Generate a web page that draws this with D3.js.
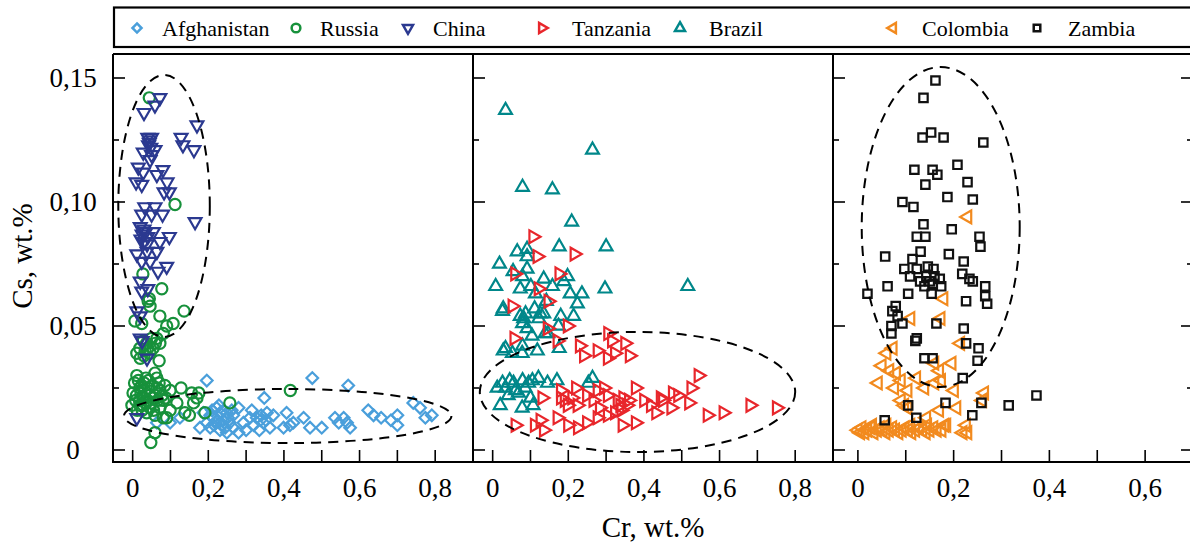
<!DOCTYPE html>
<html><head><meta charset="utf-8">
<script src="https://cdn.jsdelivr.net/npm/d3@7"></script>
<style>body{margin:0;background:#fff}svg{display:block}</style>
</head><body>
<script>
// ---------- DATA (Cr wt.%, Cs wt.%) ----------
const afghanistan = [[0.196,0.028],[0.475,0.029],[0.570,0.026],[0.348,0.021],[0.742,0.019],[0.760,0.017],[0.791,0.014],[0.774,0.013],[0.700,0.014],[0.683,0.012],[0.700,0.010],[0.623,0.016],[0.657,0.013],[0.637,0.014],[0.535,0.013],[0.558,0.013],[0.545,0.011],[0.575,0.009],[0.567,0.011],[0.500,0.009],[0.469,0.009],[0.452,0.013],[0.407,0.015],[0.416,0.010],[0.425,0.011],[0.399,0.009],[0.372,0.014],[0.355,0.015],[0.310,0.013],[0.320,0.010],[0.346,0.011],[0.363,0.009],[0.328,0.013],[0.293,0.011],[0.280,0.017],[0.266,0.014],[0.280,0.007],[0.249,0.007],[0.178,0.009],[0.196,0.011],[0.213,0.013],[0.231,0.015],[0.222,0.017],[0.240,0.012],[0.257,0.011],[0.249,0.015],[0.205,0.009],[0.231,0.008],[0.266,0.009],[0.187,0.015],[0.125,0.013],[0.099,0.011],[0.064,0.011],[0.215,0.010],[0.235,0.010],[0.225,0.012],[0.338,0.012],[0.335,0.008],[0.300,0.008],[0.205,0.014],[0.218,0.011],[0.245,0.009],[0.228,0.018],[0.252,0.013],[0.262,0.016],[0.210,0.016],[0.240,0.016],[0.340,0.014],[0.315,0.016],[0.352,0.012]];
const russia = [[0.044,0.142],[0.112,0.099],[0.027,0.071],[0.077,0.065],[0.044,0.061],[0.041,0.060],[0.046,0.058],[0.072,0.054],[0.136,0.056],[0.006,0.052],[0.024,0.051],[0.107,0.051],[0.090,0.050],[0.081,0.047],[0.064,0.045],[0.037,0.043],[0.019,0.041],[0.054,0.041],[0.072,0.043],[0.011,0.039],[0.046,0.039],[0.070,0.036],[0.033,0.040],[0.028,0.044],[0.050,0.045],[0.011,0.030],[0.059,0.031],[0.064,0.029],[0.019,0.025],[0.041,0.025],[0.072,0.024],[0.099,0.024],[0.001,0.023],[0.027,0.021],[0.054,0.021],[0.081,0.020],[-0.002,0.018],[0.019,0.018],[0.046,0.017],[0.072,0.017],[0.099,0.016],[0.037,0.015],[0.059,0.014],[0.081,0.013],[0.128,0.025],[0.156,0.023],[0.175,0.023],[0.161,0.019],[0.138,0.015],[0.191,0.015],[0.257,0.019],[0.417,0.024],[0.059,0.007],[0.048,0.003],[0.117,0.019],[0.030,0.027],[0.010,0.022],[0.035,0.019],[0.060,0.022],[0.085,0.026],[0.025,0.016],[0.005,0.027],[0.090,0.013],[0.150,0.014],[0.170,0.021],[0.015,0.028],[0.022,0.023],[0.032,0.024],[0.045,0.022],[0.052,0.026],[0.066,0.020],[0.078,0.022],[0.008,0.020],[0.018,0.020],[0.028,0.018],[0.040,0.020],[0.050,0.019],[0.065,0.025],[0.088,0.021],[0.012,0.016],[0.035,0.029],[0.055,0.016],[0.070,0.027],[0.024,0.026],[0.042,0.028],[0.030,0.038],[0.040,0.041],[0.060,0.043],[0.020,0.037]];
const china = [[0.072,0.142],[0.059,0.139],[0.030,0.136],[0.170,0.131],[0.128,0.126],[0.133,0.123],[0.162,0.121],[0.040,0.126],[0.045,0.125],[0.050,0.126],[0.042,0.123],[0.048,0.122],[0.044,0.124],[0.028,0.120],[0.059,0.121],[0.046,0.117],[0.050,0.119],[0.015,0.114],[0.028,0.112],[0.080,0.113],[0.064,0.111],[0.009,0.108],[0.024,0.107],[0.091,0.108],[0.083,0.104],[0.097,0.104],[0.032,0.098],[0.059,0.098],[0.024,0.095],[0.050,0.095],[0.079,0.095],[0.165,0.092],[0.020,0.090],[0.030,0.089],[0.025,0.087],[0.035,0.088],[0.040,0.086],[0.022,0.085],[0.030,0.084],[0.038,0.083],[0.028,0.088],[0.097,0.086],[0.072,0.084],[0.055,0.088],[0.011,0.079],[0.038,0.080],[0.064,0.080],[0.024,0.076],[0.046,0.076],[0.090,0.074],[0.067,0.072],[0.020,0.068],[0.024,0.064],[0.040,0.065],[0.011,0.056],[0.020,0.054],[0.020,0.045],[0.025,0.044],[0.038,0.037],[0.011,0.013]];
const tanzania = [[0.107,0.086],[0.118,0.078],[0.216,0.079],[0.176,0.071],[0.121,0.065],[0.052,0.058],[0.059,0.071],[0.147,0.060],[0.198,0.050],[0.057,0.045],[0.305,0.047],[0.315,0.044],[0.350,0.043],[0.171,0.044],[0.241,0.038],[0.277,0.040],[0.304,0.037],[0.323,0.039],[0.362,0.038],[0.544,0.030],[0.180,0.024],[0.220,0.025],[0.249,0.022],[0.277,0.024],[0.294,0.025],[0.304,0.022],[0.378,0.025],[0.476,0.023],[0.525,0.025],[0.490,0.022],[0.444,0.021],[0.418,0.018],[0.450,0.020],[0.472,0.017],[0.519,0.019],[0.345,0.021],[0.337,0.018],[0.355,0.018],[0.323,0.015],[0.180,0.021],[0.198,0.018],[0.224,0.018],[0.131,0.021],[0.266,0.020],[0.283,0.017],[0.304,0.014],[0.277,0.013],[0.249,0.011],[0.225,0.009],[0.199,0.010],[0.171,0.013],[0.111,0.010],[0.126,0.012],[0.135,0.008],[0.060,0.010],[0.343,0.010],[0.378,0.011],[0.568,0.014],[0.610,0.015],[0.681,0.018],[0.751,0.017],[0.432,0.015],[0.400,0.020],[0.360,0.020],[0.330,0.020],[0.340,0.016],[0.210,0.021],[0.190,0.020],[0.145,0.049],[0.230,0.042]];
const brazil = [[0.034,0.137],[0.264,0.121],[0.079,0.106],[0.158,0.105],[0.209,0.092],[0.065,0.080],[0.091,0.081],[0.176,0.082],[0.300,0.082],[0.018,0.075],[0.091,0.078],[0.054,0.072],[0.091,0.073],[0.079,0.070],[0.198,0.070],[0.188,0.068],[0.135,0.069],[0.008,0.066],[0.101,0.066],[0.158,0.066],[0.297,0.065],[0.516,0.066],[0.073,0.065],[0.113,0.063],[0.205,0.063],[0.236,0.063],[0.142,0.060],[0.224,0.059],[0.028,0.057],[0.111,0.057],[0.087,0.055],[0.135,0.055],[0.180,0.054],[0.214,0.054],[0.082,0.053],[0.122,0.053],[0.174,0.050],[0.091,0.049],[0.139,0.047],[0.104,0.046],[0.079,0.042],[0.034,0.041],[0.026,0.056],[0.073,0.054],[0.126,0.055],[0.079,0.051],[0.146,0.047],[0.176,0.041],[0.028,0.040],[0.052,0.039],[0.078,0.039],[0.118,0.040],[0.026,0.027],[0.055,0.027],[0.079,0.028],[0.105,0.028],[0.121,0.029],[0.145,0.027],[0.170,0.028],[0.264,0.029],[0.253,0.027],[0.034,0.025],[0.060,0.024],[0.086,0.025],[0.041,0.022],[0.068,0.023],[0.100,0.021],[0.020,0.018],[0.078,0.017],[0.107,0.018],[0.012,0.025],[0.045,0.028],[0.095,0.027]];
const colombia = [[0.229,0.094],[0.179,0.061],[0.110,0.053],[0.173,0.053],[0.214,0.043],[0.073,0.041],[0.060,0.039],[0.050,0.034],[0.066,0.032],[0.080,0.031],[0.160,0.035],[0.196,0.035],[0.170,0.032],[0.042,0.027],[0.090,0.028],[0.122,0.029],[0.076,0.025],[0.104,0.024],[0.139,0.025],[0.160,0.027],[0.174,0.028],[0.201,0.024],[0.264,0.023],[0.260,0.020],[0.090,0.020],[0.097,0.018],[0.104,0.017],[0.170,0.016],[0.206,0.017],[0.143,0.013],[0.181,0.010],[0.226,0.010],[0.229,0.007],[0.219,0.007],[0.000,0.008],[0.008,0.009],[0.014,0.007],[0.020,0.008],[0.027,0.009],[0.033,0.007],[0.040,0.008],[0.046,0.009],[0.052,0.008],[0.058,0.007],[0.065,0.008],[0.072,0.009],[0.078,0.008],[0.085,0.007],[0.092,0.008],[0.098,0.009],[0.105,0.008],[0.112,0.007],[0.120,0.008],[0.128,0.009],[0.135,0.008],[0.142,0.007],[0.150,0.008],[0.158,0.009],[0.165,0.008],[0.175,0.008],[0.185,0.010],[0.005,0.007],[0.030,0.010],[0.060,0.010],[0.110,0.010],[0.145,0.010]];
const zambia = [[0.162,0.149],[0.137,0.142],[0.135,0.126],[0.153,0.128],[0.179,0.126],[0.262,0.124],[0.118,0.113],[0.156,0.113],[0.166,0.111],[0.208,0.115],[0.141,0.107],[0.229,0.108],[0.093,0.100],[0.116,0.098],[0.187,0.102],[0.240,0.101],[0.137,0.091],[0.196,0.089],[0.123,0.086],[0.141,0.086],[0.254,0.086],[0.256,0.082],[0.057,0.078],[0.131,0.080],[0.114,0.077],[0.190,0.079],[0.221,0.076],[0.097,0.073],[0.123,0.073],[0.146,0.074],[0.158,0.073],[0.109,0.070],[0.143,0.070],[0.171,0.069],[0.218,0.071],[0.233,0.069],[0.240,0.068],[0.139,0.066],[0.156,0.067],[0.174,0.066],[0.154,0.063],[0.062,0.066],[0.266,0.066],[0.266,0.062],[0.270,0.059],[0.105,0.063],[0.020,0.063],[0.079,0.058],[0.072,0.056],[0.083,0.054],[0.093,0.051],[0.070,0.050],[0.070,0.047],[0.164,0.051],[0.221,0.049],[0.226,0.060],[0.123,0.045],[0.120,0.044],[0.226,0.043],[0.252,0.041],[0.250,0.036],[0.139,0.037],[0.156,0.037],[0.219,0.029],[0.105,0.018],[0.183,0.019],[0.258,0.019],[0.315,0.018],[0.373,0.022],[0.056,0.012],[0.122,0.013],[0.239,0.014],[0.150,0.068],[0.160,0.070],[0.130,0.068]];

const legendNames = ["Afghanistan","Russia","China","Tanzania","Brazil","Colombia","Zambia"];
const yTickVals = [0, 0.05, 0.10, 0.15];
const yTickLabels = ["0","0,05","0,10","0,15"];
const xTickLabelsWide = ["0","0,2","0,4","0,6","0,8"];
const xTickLabelsNarrow = ["0","0,2","0,4","0,6"];
// ellipses: [cx, cy, rx, ry] in data units
const ellipseLeft = [[0.083,0.0984,0.121,0.0528],[0.41,0.0137,0.433,0.0109]];
const ellipseMid = [[0.383,0.0234,0.417,0.0242]];
const ellipseRight = [[0.173,0.0899,0.165,0.0645]];

// ---------- STYLE ----------
const W=1190,H=544;
const FONT="'Liberation Serif','Times New Roman',serif";
const col = {Afghanistan:"#4a9fdb",Russia:"#17913b",China:"#2b3990",Tanzania:"#e8262b",Brazil:"#00878a",Colombia:"#f28a1e",Zambia:"#111"};

const svg=d3.select("body").append("svg").attr("width",W).attr("height",H);
const y=d3.scaleLinear().domain([0,0.15]).range([450,78]);
const yTop=54,yBottom=462;

const panels=[
 {x:d3.scaleLinear().domain([-0.052,0.9]).range([113,473]), series:[["Afghanistan",afghanistan],["Russia",russia],["China",china]], ell:ellipseLeft, ticks:d3.range(0,9).map(d=>d/10), labels:xTickLabelsWide, right:false},
 {x:d3.scaleLinear().domain([-0.052,0.9]).range([473,833]), series:[["Brazil",brazil],["Tanzania",tanzania]], ell:ellipseMid, ticks:d3.range(0,9).map(d=>d/10), labels:xTickLabelsWide, right:false},
 {x:d3.scaleLinear().domain([-0.052,0.7]).range([833,1193]), series:[["Colombia",colombia],["Zambia",zambia]], ell:ellipseRight, ticks:d3.range(0,7).map(d=>d/10), labels:xTickLabelsNarrow, right:true}
];

function tri(s,rot){const h=s*Math.sqrt(3)/2;const p=[[0,-2*h/3],[s/2,h/3],[-s/2,h/3]];const a=rot*Math.PI/180;
 return "M"+p.map(([px,py])=>[px*Math.cos(a)-py*Math.sin(a),px*Math.sin(a)+py*Math.cos(a)].map(v=>v.toFixed(2)).join(",")).join("L")+"Z";}
function shape(name,k){
 switch(name){
  case "Afghanistan":{const r=5.8*k;return `M0,${-r}L${r},0L0,${r}L${-r},0Z`;}
  case "Russia":{const r=5.6*k;return `M${r},0A${r},${r} 0 1 1 ${-r},0A${r},${r} 0 1 1 ${r},0Z`;}
  case "China":return tri(12.8*k,180);
  case "Tanzania":return tri(12.8*k,90);
  case "Brazil":return tri(12.8*k,0);
  case "Colombia":return tri(12.8*k,-90);
  case "Zambia":{const r=4.2*k;return `M${-r},${-r}H${r}V${r}H${-r}Z`;}
 }
}

const defs=svg.append("defs");
panels.forEach((p,i)=>{
 const [x0,x1]=p.x.range();
 defs.append("clipPath").attr("id","clip"+i).append("rect").attr("x",x0).attr("y",yTop).attr("width",x1-x0).attr("height",yBottom-yTop);
 const g=svg.append("g").attr("clip-path",`url(#clip${i})`);
 p.series.forEach(([name,data])=>{
  g.selectAll(null).data(data).enter().append("path")
   .attr("d",shape(name,1)).attr("transform",d=>`translate(${p.x(d[0])},${y(d[1])})`)
   .attr("fill","none").attr("stroke",col[name]).attr("stroke-width",2.2);
 });
 p.ell.forEach(e=>{
  g.append("ellipse").attr("cx",p.x(e[0])).attr("cy",y(e[1]))
   .attr("rx",p.x(e[0]+e[2])-p.x(e[0])).attr("ry",y(e[1])-y(e[1]+e[3]))
   .attr("fill","none").attr("stroke","#000").attr("stroke-width",2).attr("stroke-dasharray","10,7");
 });
 const ax=svg.append("g");
 p.ticks.forEach(t=>{ax.append("line").attr("x1",p.x(t)).attr("x2",p.x(t)).attr("y1",yBottom).attr("y2",yBottom-12).attr("stroke","#000").attr("stroke-width",1.6);});
 p.labels.forEach((l,j)=>{ax.append("text").attr("x",p.x(j*0.2)).attr("y",497).attr("text-anchor","middle").attr("font-family",FONT).attr("font-size",27).text(l);});
 const yt=[0,0.025,0.05,0.075,0.10,0.125,0.15];
 yt.forEach((t,j)=>{const len=j%2?6:12;ax.append("line").attr("x1",x0).attr("x2",x0+len).attr("y1",y(t)).attr("y2",y(t)).attr("stroke","#000").attr("stroke-width",1.6);
   if(p.right) ax.append("line").attr("x1",x1).attr("x2",x1-len).attr("y1",y(t)).attr("y2",y(t)).attr("stroke","#000").attr("stroke-width",1.6);});
 ax.append("line").attr("x1",x0).attr("x2",x0).attr("y1",yTop).attr("y2",yBottom).attr("stroke","#000").attr("stroke-width",2);
 if(p.right) ax.append("line").attr("x1",x1).attr("x2",x1).attr("y1",yTop).attr("y2",yBottom).attr("stroke","#000").attr("stroke-width",2);
});
svg.append("line").attr("x1",113).attr("x2",1193).attr("y1",yTop).attr("y2",yTop).attr("stroke","#000").attr("stroke-width",2);
svg.append("line").attr("x1",112).attr("x2",1193).attr("y1",yBottom).attr("y2",yBottom).attr("stroke","#000").attr("stroke-width",2);

yTickVals.forEach((v,i)=>{svg.append("text").attr("x",73).attr("y",y(v)+9).attr("text-anchor","middle").attr("font-family",FONT).attr("font-size",27).text(yTickLabels[i]);});

svg.append("text").attr("x",653).attr("y",537).attr("text-anchor","middle").attr("font-family",FONT).attr("font-size",29).text("Cr, wt.%");
svg.append("text").attr("transform","translate(32,256) rotate(-90)").attr("text-anchor","middle").attr("font-family",FONT).attr("font-size",29).text("Cs, wt.%");

svg.append("rect").attr("x",114).attr("y",7.5).attr("width",1090).attr("height",39.5).attr("fill","none").attr("stroke","#000").attr("stroke-width",2.2);
const legX=[[137,162],[296,320],[408,433],[542,572],[680,709],[893,922],[1037,1068]];
legendNames.forEach((n,i)=>{
 svg.append("path").attr("d",shape(n,0.78)).attr("transform",`translate(${legX[i][0]},28)`).attr("fill","none").attr("stroke",col[n]).attr("stroke-width",2.5);
 svg.append("text").attr("x",legX[i][1]).attr("y",36).attr("font-family",FONT).attr("font-size",22).text(n);
});
</script>
</body></html>
